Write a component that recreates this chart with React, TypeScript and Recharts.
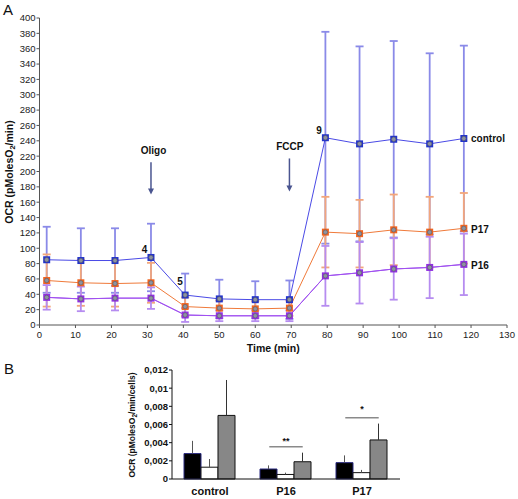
import React from "react"
import {
  LineChart,
  Line,
  BarChart,
  Bar,
  XAxis,
  YAxis,
  ErrorBar,
  ReferenceLine,
  ReferenceDot,
} from "recharts"

const FONT = '"Liberation Sans", Arial, sans-serif'

// Panel A: OCR time course (Seahorse run)
const times = [2, 11.5, 21, 31, 40.5, 50, 60, 69.5, 79.5, 89, 98.5, 108.5, 118]
const control = [85, 84, 84, 88, 39, 34, 33, 33, 244, 236, 242, 236, 243]
const controlErr = [43, 42, 42, 44, 28, 25, 24, 25, 138, 127, 128, 118, 121]
const p17 = [58, 55, 54, 55, 24, 22, 21, 22, 121, 119, 124, 121, 126]
const p17Err = [34, 30, 30, 26, 12, 10, 10, 10, 46, 44, 46, 46, 46]
const p16 = [36, 34, 35, 35, 13, 12, 12, 12, 64, 68, 73, 75, 79]
const p16Err = [16, 16, 16, 14, 9, 7, 7, 7, 39, 40, 40, 40, 40]
const timeTicks = [0, 10, 20, 30, 40, 50, 60, 70, 80, 90, 100, 110, 120, 130]
const ocrTicks = [0, 20, 40, 60, 80, 100, 120, 140, 160, 180, 200, 220, 240, 260, 280, 300, 320, 340, 360, 380, 400]

// Panel B: OCR per cell
const groups = ["control", "P16", "P17"]
const groupPos = [0.5, 1.5, 2.5]
const blackVals = [0.0028, 0.0011, 0.0018]
const blackErr = [0.0014, 0.0004, 0.0008]
const whiteVals = [0.0013, 0.0005, 0.0007]
const whiteErr = [0.0009, 0.0002, 0.0003]
const grayVals = [0.007, 0.0019, 0.0043]
const grayErr = [0.0039, 0.001, 0.0018]
const cellTicks = [0, 0.002, 0.004, 0.006, 0.008, 0.01, 0.012]

const rowsA = times.map((t, i) => ({
  t,
  control: control[i],
  controlErr: controlErr[i],
  p17: p17[i],
  p17Err: p17Err[i],
  p16: p16[i],
  p16Err: p16Err[i],
}))

const rowsB = groups.map((g, i) => ({
  group: g,
  pos: groupPos[i],
  black: blackVals[i],
  blackErr: [0, blackErr[i]],
  white: whiteVals[i],
  whiteErr: [0, whiteErr[i]],
  gray: grayVals[i],
  grayErr: [0, grayErr[i]],
}))

const squareDot = (fill: string, id: string) => (p: any) => (
  <g key={`${id}-${p.index}`}>
    <rect x={p.cx - 3.5} y={p.cy - 3.5} width={7} height={7} fill={fill} />
    <circle cx={p.cx} cy={p.cy} r={2.2} fill="#8d93a0" stroke="#5a5a6a" strokeWidth={0.6} />
  </g>
)

const textShape = (txt: string, anchor = "middle", size = 10) => (p: any) => (
  <text
    x={p.cx}
    y={p.cy}
    textAnchor={anchor}
    dominantBaseline="central"
    fontFamily={FONT}
    fontWeight="bold"
    fontSize={size}
    fill="#111"
  >
    {txt}
  </text>
)

const arrowHead = (p: any) => (
  <path d={`M${p.cx - 3},${p.cy - 6} L${p.cx + 3},${p.cy - 6} L${p.cx},${p.cy} Z`} fill="#4a5590" />
)

const tickStyle = { fontSize: 9.5, fill: "#222", fontFamily: FONT }
const marginA = { top: 18, right: 11, bottom: 5, left: 0 }

// same axes in every layer so the scales line up; only the top layer shows them
const axesA = (show: boolean) => [
  <XAxis
    key="x"
    dataKey="t"
    type="number"
    domain={[0, 130]}
    ticks={timeTicks}
    height={30}
    tickSize={3}
    tickMargin={3}
    stroke="#555"
    axisLine={show}
    tickLine={show}
    tick={show ? tickStyle : false}
    label={show ? { value: "Time (min)", position: "insideBottom", offset: 3, fontFamily: FONT, fontWeight: "bold", fontSize: 10.5, fill: "#111" } : undefined}
  />,
  <YAxis
    key="y"
    type="number"
    domain={[0, 400]}
    ticks={ocrTicks}
    width={39.5}
    tickSize={3}
    tickMargin={1}
    stroke="#555"
    axisLine={show}
    tickLine={show}
    tick={show ? tickStyle : false}
    interval={0}
    label={
      show
        ? {
            content: () => (
              <text x={-172} y={8.5} transform="rotate(-90)" textAnchor="middle" dominantBaseline="central" fontFamily={FONT} fontWeight="bold" fontSize={10.5} fill="#111">
                OCR (pMolesO<tspan dy={3} fontSize={7.5}>2</tspan>
                <tspan dy={-3}>/min)</tspan>
              </text>
            ),
          }
        : undefined
    }
  />,
]

function ErrLayer({ dataKey, errKey, color }: { dataKey: string; errKey: string; color: string }) {
  return (
    <LineChart width={518} height={360} data={rowsA} margin={marginA}>
      {axesA(false)}
      <Line dataKey={dataKey} stroke="none" dot={false} isAnimationActive={false}>
        <ErrorBar dataKey={errKey} width={4} stroke={color} strokeWidth={1.8} />
      </Line>
    </LineChart>
  )
}

function PanelA() {
  return (
    <LineChart width={518} height={360} data={rowsA} margin={marginA}>
      {axesA(true)}
      <Line dataKey="p16" stroke="#a050f0" strokeWidth={1} dot={false} isAnimationActive={false}>
        <ErrorBar dataKey="p16Err" width={4} stroke="#b68cf0" strokeWidth={1.8} />
      </Line>
      <Line dataKey="control" stroke="#4a4ae6" strokeWidth={1} dot={squareDot("#2233c8", "c")} isAnimationActive={false} />
      <Line dataKey="p17" stroke="#f07a3a" strokeWidth={1} dot={squareDot("#f06420", "o")} isAnimationActive={false} />
      <Line dataKey="p16" stroke="#a050f0" strokeWidth={1} dot={squareDot("#9030e0", "p")} isAnimationActive={false} />

      <ReferenceLine segment={[{ x: 31, y: 212 }, { x: 31, y: 176 }]} stroke="#4a5590" strokeWidth={1.5} />
      <ReferenceDot x={31} y={170} shape={arrowHead} />
      <ReferenceLine segment={[{ x: 69.5, y: 217 }, { x: 69.5, y: 180 }]} stroke="#4a5590" strokeWidth={1.5} />
      <ReferenceDot x={69.5} y={174} shape={arrowHead} />
      <ReferenceDot x={31.7} y={227} shape={textShape("Oligo")} />
      <ReferenceDot x={69.6} y={233} shape={textShape("FCCP")} />
      <ReferenceDot x={29.2} y={98} shape={textShape("4")} />
      <ReferenceDot x={39.1} y={56.5} shape={textShape("5")} />
      <ReferenceDot x={77.7} y={253} shape={textShape("9")} />
      <ReferenceDot x={120} y={243.5} shape={textShape("control", "start")} />
      <ReferenceDot x={120} y={125} shape={textShape("P17", "start")} />
      <ReferenceDot x={120} y={77} shape={textShape("P16", "start")} />
    </LineChart>
  )
}

const fmtComma = (v: number) => String(Number(v.toFixed(3))).replace(".", ",")

function PanelB() {
  return (
    <BarChart
      width={518}
      height={139}
      data={rowsB}
      margin={{ top: 10, right: 118, bottom: 0, left: 120 }}
      barGap={0}
      barCategoryGap={12}
    >
      <XAxis
        dataKey="group"
        height={20}
        tickLine={false}
        tickSize={3}
        tickMargin={5}
        stroke="#111"
        tick={{ fontSize: 11, fontWeight: "bold", fill: "#111", fontFamily: FONT }}
      />
      <XAxis xAxisId="num" dataKey="pos" type="number" domain={[0, 3]} allowDataOverflow hide />
      <YAxis
        type="number"
        domain={[0, 0.012]}
        ticks={cellTicks}
        width={52}
        tickSize={3}
        tickMargin={1}
        stroke="#111"
        interval={0}
        tickFormatter={fmtComma}
        tick={{ fontSize: 9.5, fontWeight: "bold", fill: "#111", fontFamily: FONT }}
        label={{
          content: () => (
            <text x={-65} y={131.5} transform="rotate(-90)" textAnchor="middle" dominantBaseline="central" fontFamily={FONT} fontWeight="bold" fontSize={8.5} fill="#111">
              OCR (pMolesO<tspan dy={2.5} fontSize={6.5}>2</tspan>
              <tspan dy={-2.5}>/min/cells)</tspan>
            </text>
          ),
        }}
      />
      <Bar dataKey="black" fill="#000" stroke="#2a2a80" strokeWidth={1} isAnimationActive={false}>
        <ErrorBar dataKey="blackErr" width={0} stroke="#555" strokeWidth={1} />
      </Bar>
      <Bar dataKey="white" fill="#fff" stroke="#111" strokeWidth={1} isAnimationActive={false}>
        <ErrorBar dataKey="whiteErr" width={0} stroke="#555" strokeWidth={1} />
      </Bar>
      <Bar dataKey="gray" fill="#878787" stroke="#111" strokeWidth={1} isAnimationActive={false}>
        <ErrorBar dataKey="grayErr" width={0} stroke="#333" strokeWidth={1} />
      </Bar>
      <ReferenceLine xAxisId="num" segment={[{ x: 1.28, y: 0.00356 }, { x: 1.72, y: 0.00356 }]} stroke="#8a8a8a" strokeWidth={1.5} />
      <ReferenceDot xAxisId="num" x={1.5} y={0.0042} shape={textShape("**", "middle", 9)} />
      <ReferenceLine xAxisId="num" segment={[{ x: 2.28, y: 0.00675 }, { x: 2.72, y: 0.00675 }]} stroke="#8a8a8a" strokeWidth={1.5} />
      <ReferenceDot xAxisId="num" x={2.5} y={0.0077} shape={textShape("*", "middle", 9)} />
    </BarChart>
  )
}

const layer: React.CSSProperties = { position: "absolute", left: 0, top: 0 }

export default function App() {
  return (
    <div style={{ position: "absolute", left: 0, top: 0, width: 518, height: 499, background: "#fff", fontFamily: FONT }}>
      <div style={{ position: "absolute", left: 3, top: 1, fontSize: 15, color: "#111" }}>A</div>
      <div style={{ position: "absolute", left: 4, top: 360, fontSize: 15, color: "#111" }}>B</div>
      <div style={layer}>
        <ErrLayer dataKey="control" errKey="controlErr" color="#8a8ae8" />
      </div>
      <div style={layer}>
        <ErrLayer dataKey="p17" errKey="p17Err" color="#f2a67c" />
      </div>
      <div style={layer}>
        <PanelA />
      </div>
      <div style={{ position: "absolute", left: 0, top: 360 }}>
        <PanelB />
      </div>
    </div>
  )
}
